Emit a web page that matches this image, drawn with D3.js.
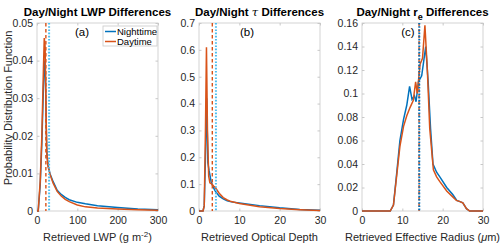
<!DOCTYPE html>
<html>
<head>
<meta charset="utf-8">
<script src="https://cdn.jsdelivr.net/npm/d3@7"></script>
<style>
  body { margin: 0; background: #fff; }
  svg { font-family: "Liberation Sans", Arial, sans-serif; }
</style>
</head>
<body>
<svg id="chart" width="500" height="246"></svg>
<script>
// panel (a) LWP
var lwpX_day = [0, 3, 8, 12, 16, 18, 20, 22, 24, 27, 32, 40, 50, 60, 70, 80, 100, 120, 150, 200, 250, 300]
var lwpY_day = [0, 0, 0.008, 0.02, 0.038, 0.046, 0.044, 0.03, 0.016, 0.012, 0.0098, 0.0074, 0.0052, 0.004, 0.0031, 0.0025, 0.0016, 0.0011, 0.0008, 0.0005, 0.0003, 0.0002]
var lwpX_night = [0, 3, 8, 12, 16, 19, 21, 23, 25, 28, 32, 40, 50, 60, 70, 80, 100, 120, 150, 200, 250, 300]
var lwpY_night = [0, 0, 0.007, 0.018, 0.033, 0.04, 0.036, 0.022, 0.0145, 0.012, 0.01, 0.0078, 0.0055, 0.0044, 0.0036, 0.003, 0.0023, 0.0019, 0.0014, 0.0009, 0.0005, 0.0003]
var lwpMean = { day: 22, night: 30 }

// panel (b) optical depth
var tauX_day = [0, 1, 1.3, 1.6, 1.85, 2.1, 2.4, 2.7, 3.2, 3.6, 4, 5, 6, 7, 8, 10, 15, 20, 25, 30]
var tauY_day = [0, 0, 0.02, 0.3, 0.61, 0.3, 0.13, 0.105, 0.1, 0.093, 0.088, 0.066, 0.05, 0.041, 0.035, 0.028, 0.016, 0.009, 0.005, 0.002]
var tauX_night = [0, 1, 1.3, 1.6, 1.9, 2.2, 2.5, 3, 3.5, 4, 5, 6, 7, 8, 10, 15, 20, 25, 30]
var tauY_night = [0, 0, 0.02, 0.2, 0.42, 0.18, 0.15, 0.11, 0.09, 0.075, 0.055, 0.045, 0.038, 0.034, 0.03, 0.02, 0.012, 0.006, 0.003]
var tauMean = { day: 3.3, night: 4.2 }

// panel (c) effective radius
var reX_day = [0, 7, 7.8, 8.6, 9.4, 10.3, 11.1, 11.9, 12.7, 13.3, 13.7, 14.4, 15, 15.6, 16.2, 16.8, 17.7, 18.5, 19.3, 21, 22.5, 23.4, 24.3, 25, 25.9, 26.7, 30]
var reY_day = [0, 0, 0.005, 0.03, 0.055, 0.072, 0.081, 0.088, 0.094, 0.11, 0.1, 0.125, 0.13, 0.158, 0.12, 0.07, 0.035, 0.029, 0.025, 0.017, 0.012, 0.009, 0.008, 0.007, 0.002, 0, 0]
var reX_night = [0, 7, 7.8, 8.6, 9.4, 10.3, 11.1, 11.8, 12.4, 13, 13.4, 14, 14.8, 15.4, 15.8, 16.4, 17, 17.6, 18.5, 19.5, 21, 22.5, 23.5, 24.3, 25, 25.9, 26.7, 30]
var reY_night = [0, 0, 0.005, 0.032, 0.06, 0.078, 0.09, 0.106, 0.095, 0.098, 0.093, 0.11, 0.115, 0.13, 0.14, 0.11, 0.07, 0.04, 0.033, 0.028, 0.02, 0.014, 0.009, 0.008, 0.007, 0.002, 0, 0]
var reMean = { day: 14.15, night: 14.2 }

var nightColor = "#0072BD", dayColor = "#D95319", nightMeanColor = "#4DBEEE"
var plotTop = 23, plotBottom = 211

var svg = d3.select("#chart")

var panels = [
  { x0: 37, x1: 158, xMax: 300, yMax: 0.05, yTicks: d3.range(0, 0.0501, 0.01), xTicks: [0, 100, 200, 300],
    day: [lwpX_day, lwpY_day], night: [lwpX_night, lwpY_night], mean: lwpMean, tag: "(a)", tagX: 82 },
  { x0: 199, x1: 320, xMax: 30, yMax: 0.7, yTicks: d3.range(0, 0.701, 0.1), xTicks: [0, 10, 20, 30],
    day: [tauX_day, tauY_day], night: [tauX_night, tauY_night], mean: tauMean, tag: "(b)", tagX: 247 },
  { x0: 362, x1: 483, xMax: 30, yMax: 0.16, yTicks: d3.range(0, 0.1601, 0.02), xTicks: [0, 10, 20, 30],
    day: [reX_day, reY_day], night: [reX_night, reY_night], mean: reMean, tag: "(c)", tagX: 408 }
]

function fmt(v) { return +v.toFixed(3) + "" }

panels.forEach(function(p) {
  var x = d3.scaleLinear().domain([0, p.xMax]).range([p.x0, p.x1])
  var y = d3.scaleLinear().domain([0, p.yMax]).range([plotBottom, plotTop])
  var g = svg.append("g")

  // box
  g.append("rect").attr("x", p.x0).attr("y", plotTop).attr("width", p.x1 - p.x0).attr("height", plotBottom - plotTop)
    .attr("fill", "none").attr("stroke", "#c8c8c8").attr("stroke-width", 0.8)

  var xa = g.append("g").attr("transform", "translate(0," + plotBottom + ")")
    .call(d3.axisBottom(x).tickValues(p.xTicks).tickSizeInner(-2.5).tickSizeOuter(0).tickPadding(6))
  var xt = g.append("g").attr("transform", "translate(0," + plotTop + ")")
    .call(d3.axisTop(x).tickValues(p.xTicks).tickSizeInner(-2.5).tickSizeOuter(0).tickFormat(""))
  var ya = g.append("g").attr("transform", "translate(" + p.x0 + ",0)")
    .call(d3.axisLeft(y).tickValues(p.yTicks).tickFormat(fmt).tickSizeInner(-2.5).tickSizeOuter(0).tickPadding(4))
  var yr = g.append("g").attr("transform", "translate(" + p.x1 + ",0)")
    .call(d3.axisRight(y).tickValues(p.yTicks).tickSizeInner(-2.5).tickSizeOuter(0).tickFormat(""))
  ;[xa, xt, ya, yr].forEach(function(a) {
    a.select(".domain").remove()
    a.selectAll("line").attr("stroke", "#c8c8c8")
    a.selectAll("text").attr("fill", "#262626").style("font-size", "10.5px").style("font-family", "Liberation Sans, Arial, sans-serif")
  })

  var line = d3.line().x(function(d) { return x(d[0]) }).y(function(d) { return y(d[1]) })
  function pts(s) { return s[0].map(function(v, i) { return [v, s[1][i]] }) }

  g.append("path").attr("d", line(pts(p.night))).attr("fill", "none").attr("stroke", nightColor).attr("stroke-width", 1.5)
  g.append("path").attr("d", line(pts(p.day))).attr("fill", "none").attr("stroke", dayColor).attr("stroke-width", 1.5)

  g.append("line").attr("x1", x(p.mean.day)).attr("x2", x(p.mean.day)).attr("y1", plotTop).attr("y2", plotBottom)
    .attr("stroke", dayColor).attr("stroke-width", 1.4).attr("stroke-dasharray", "3.5,2.5")
  g.append("line").attr("x1", x(p.mean.night)).attr("x2", x(p.mean.night)).attr("y1", plotTop).attr("y2", plotBottom)
    .attr("stroke", p.tag == "(c)" ? nightColor : nightMeanColor).attr("stroke-width", 2).attr("stroke-dasharray", "1.6,1.6")

  g.append("text").attr("x", p.tagX).attr("y", 36).attr("text-anchor", "middle")
    .style("font-size", "11.5px").attr("fill", "#000").text(p.tag)
})

// titles
function title(cx, parts) {
  var t = svg.append("text").attr("x", cx).attr("y", 16).attr("text-anchor", "middle")
    .style("font-size", "11.5px").style("font-weight", "bold").attr("fill", "#000")
  parts.forEach(function(pt) {
    var s = t.append("tspan").text(pt.t)
    if (pt.it) s.style("font-style", "italic").style("font-weight", "normal").style("font-family", "DejaVu Serif, serif")
    if (pt.dy) s.attr("dy", pt.dy)
    if (pt.fs) s.style("font-size", pt.fs)
  })
}
title(97.5, [{ t: "Day/Night LWP Differences" }])
title(259.5, [{ t: "Day/Night " }, { t: "τ", it: true }, { t: " Differences" }])
title(422.5, [{ t: "Day/Night r" }, { t: "e", dy: 3.5, fs: "9px" }, { t: " Differences", dy: -3.5 }])

// x labels
function xlabel(cx, parts) {
  var t = svg.append("text").attr("x", cx).attr("y", 241).attr("text-anchor", "middle")
    .style("font-size", "11px").attr("fill", "#262626")
  parts.forEach(function(pt) {
    var s = t.append("tspan").text(pt.t)
    if (pt.dy) s.attr("dy", pt.dy)
    if (pt.fs) s.style("font-size", pt.fs)
    if (pt.it) s.style("font-style", "italic")
  })
}
xlabel(97.5, [{ t: "Retrieved LWP (g m" }, { t: "-2", dy: -4, fs: "8px" }, { t: ")", dy: 4 }])
xlabel(259.5, [{ t: "Retrieved Optical Depth" }])
xlabel(422.5, [{ t: "Retrieved Effective Radius (" }, { t: "μ", it: true }, { t: "m)" }])

svg.append("text").attr("transform", "translate(12,108) rotate(-90)").attr("text-anchor", "middle")
  .style("font-size", "11px").attr("fill", "#262626").text("Probability Distribution Function")

// legend
var lg = svg.append("g")
lg.append("rect").attr("x", 103).attr("y", 26).attr("width", 54).attr("height", 20)
  .attr("fill", "#fff").attr("stroke", "#c8c8c8").attr("stroke-width", 0.8)
;[{ n: "Nighttime", c: nightColor }, { n: "Daytime", c: dayColor }].forEach(function(d, i) {
  var yy = 31.5 + i * 10
  lg.append("line").attr("x1", 105).attr("x2", 116).attr("y1", yy).attr("y2", yy).attr("stroke", d.c).attr("stroke-width", 1.5)
  lg.append("text").attr("x", 117).attr("y", yy + 3.3).style("font-size", "9.5px").attr("fill", "#000").text(d.n)
})
</script>
</body>
</html>
